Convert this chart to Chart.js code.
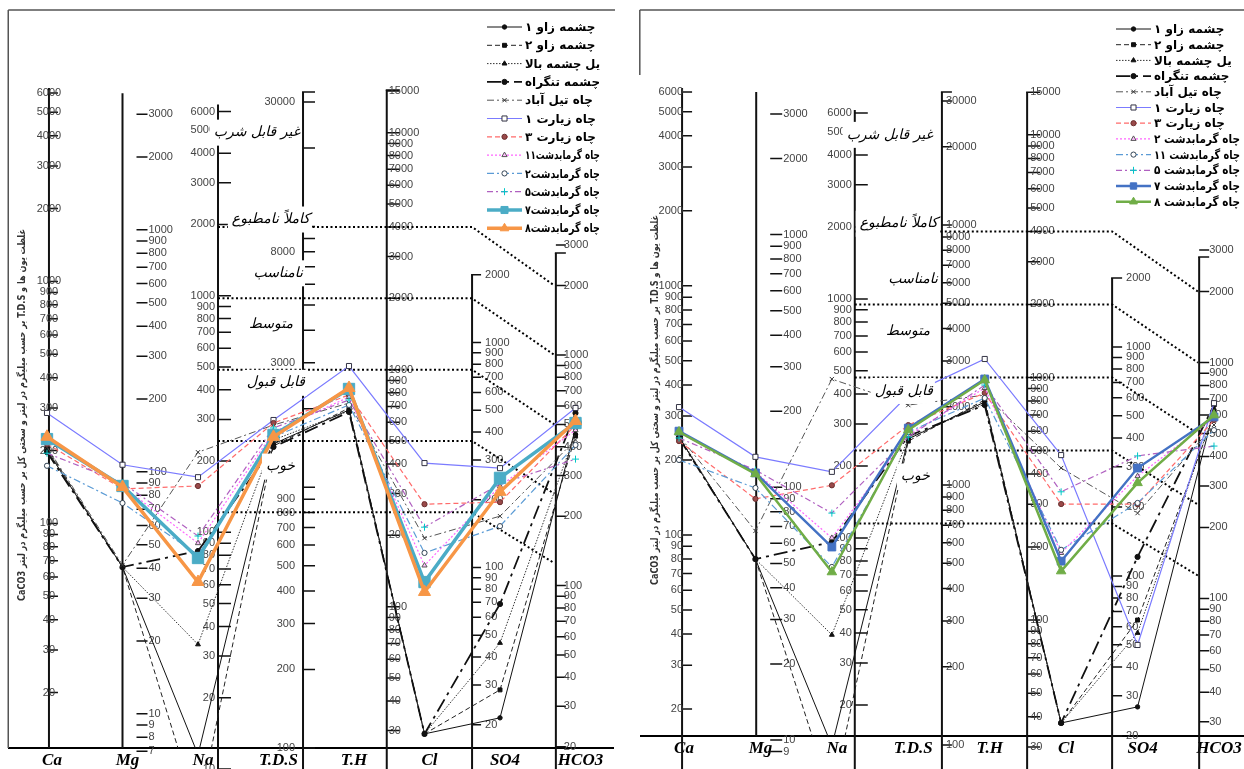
<!DOCTYPE html>
<html>
<head>
<meta charset="utf-8">
<script src="https://cdn.jsdelivr.net/npm/chart.js@4.4.1/dist/chart.umd.min.js"></script>
<style>
  html, body { margin: 0; background: #fff; overflow: hidden; width: 1244px; height: 769px; }
  canvas { position: absolute; top: 0; }
  #left { left: 0; }
  #right { left: 632px; }
</style>
</head>
<body>
<canvas id="left" width="630" height="769"></canvas>
<canvas id="right" width="630" height="769"></canvas>
<script>
const columns = ['Ca', 'Mg', 'Na', 'T.D.S', 'T.H', 'Cl', 'SO4', 'HCO3'];

const namesLeft = ['چشمه زاو ۱', 'چشمه زاو ۲', 'یل چشمه بالا', 'چشمه تنگراه', 'چاه تیل آباد', 'چاه زیارت ۱',
    'چاه زیارت ۳', 'چاه گرمابدشت۱۱', 'چاه گرمابدشت۲', 'چاه گرمابدشت۵', 'چاه گرمابدشت۷', 'چاه گرمابدشت۸'];
const namesRight = ['چشمه زاو ۱', 'چشمه زاو ۲', 'یل چشمه بالا', 'چشمه تنگراه', 'چاه تیل آباد', 'چاه زیارت ۱',
    'چاه زیارت ۳', 'چاه گرمابدشت ۲', 'چاه گرمابدشت ۱۱', 'چاه گرمابدشت ۵', 'چاه گرمابدشت ۷', 'چاه گرمابدشت ۸'];

// mg/l (T.H as CaCO3), column order as above - left diagram
const L_zav1 = [201, 40.4, 11.5, 1465, 676, 18.2, 26.7, 612];
const L_zav2 = [205, 40.4, 6.5, 1439, 689, 18.2, 35.3, 566];
const L_pol = [201, 40.4, 33.6, 1518, 669, 18.2, 56.4, 583];
const L_tang = [197, 40.4, 83.4, 1427, 663, 18.2, 83.2, 711];
const L_til = [207, 41.2, 218, 1732, 723, 135, 200, 544];
const L_zi1 = [286, 107, 171, 1810, 1036, 291, 323, 748];
const L_zi3 = [213, 85, 157, 1763, 782, 191, 230, 631];
const L_g11 = [221, 87, 90, 1628, 767, 102, 270, 600];
const L_g2 = [173, 74.3, 80.2, 1558, 710, 116, 181, 517];
const L_g5 = [195, 90, 96.5, 1687, 745, 151, 276, 449];
const L_g7 = [223, 87.4, 77.9, 1586, 829, 86.1, 293, 644];
const L_g8 = [228, 86.5, 61.7, 1560, 837, 77.8, 255, 657];

// right diagram
const R_zav1 = [247, 52, 13.5, 1504, 793, 22.8, 34.7, 801];
const R_zav2 = [247, 52, 8.2, 1476, 808, 22.8, 81, 762];
const R_pol = [250, 52, 39.3, 1516, 778, 22.8, 71.4, 784];
const R_tang = [245, 52, 96.1, 1543, 770, 22.8, 150, 840];
const R_til = [250, 67.2, 462, 2031, 846, 296, 230, 692];
const R_zi1 = [326, 132, 189, 2219, 1192, 337, 63.5, 856];
const R_zi3 = [238, 90, 166, 1701, 863, 206, 251, 726];
const R_g2 = [257, 115, 100, 1557, 905, 126, 330, 740];
const R_g11 = [200, 99.4, 75.6, 1599, 823, 130, 254, 658];
const R_g5 = [245, 117, 127, 1529, 931, 233, 402, 563];
const R_g7 = [261, 114, 91.6, 1656, 986, 116, 357, 748];
const R_g8 = [259, 113, 72, 1628, 976, 105, 309, 762];

const seriesLeft = [L_zav1, L_zav2, L_pol, L_tang, L_til, L_zi1, L_zi3, L_g11, L_g2, L_g5, L_g7, L_g8];
const seriesRight = [R_zav1, R_zav2, R_pol, R_tang, R_til, R_zi1, R_zi3, R_g2, R_g11, R_g5, R_g7, R_g8];

// tick labels of the vertical axes
const caTicks = [6000, 5000, 4000, 3000, 2000, 1000, 900, 800, 700, 600, 500, 400, 300, 200, 100, 90, 80, 70, 60, 50, 40, 30, 20];
const mgTicks = [3000, 2000, 1000, 900, 800, 700, 600, 500, 400, 300, 200, 100, 90, 80, 70, 60, 50, 40, 30, 20, 10, 9, 8, 7];
const naTicks = [6000, 5000, 4000, 3000, 2000, 1000, 900, 800, 700, 600, 500, 400, 300, 200, 100, 90, 80, 70, 60, 50, 40, 30, 20, 10];
const tdsTicks = [30000, 20000, 10000, 9000, 8000, 7000, 6000, 5000, 4000, 3000, 2000, 1000, 900, 800, 700, 600, 500, 400, 300, 200, 100];
const tdsLabelsLeft = [30000, 8000, 3000, 900, 800, 700, 600, 500, 400, 300, 200, 100];
const thTicks = [15000, 10000, 9000, 8000, 7000, 6000, 5000, 4000, 3000, 2000, 1000, 900, 800, 700, 600, 500, 400, 300, 200, 100, 90, 80, 70, 60, 50, 40, 30];
const clTicks = [2000, 1000, 900, 800, 700, 600, 500, 400, 300, 200, 100, 90, 80, 70, 60, 50, 40, 30, 20];
const so4Ticks = [3000, 2000, 1000, 900, 800, 700, 600, 500, 400, 300, 200, 100, 90, 80, 70, 60, 50, 40, 30, 20];

// drinking water classes (boundaries on T.H axis and on last axis)
const zoneTH = [4000, 2000, 1000, 500, 250];
const zoneLast = [2000, 1000, 500, 250, 125];
const zoneNames = ['غیر قابل شرب', 'کاملاً نامطبوع', 'نامناسب', 'متوسط', 'قابل قبول', 'خوب'];
const zoneNameTH = [10000, 4300, 2550, 1550, 880, 390];

const yTitle = 'غلظت یون ها و T.D.S بر حسب میلیگرم در لیتر و سختی کل بر حسب میلیگرم در لیتر CaCO3';

// log(common) = k*log(v) - c  for each printed scale
const calLeft = {
    Ca: {k: 1, c: 1.302}, Mg: {k: 1, c: 1.089}, Na: {k: 0.978, c: 1.295}, TDS: {k: 1.0775, c: 2.385},
    TH: {k: 0.9794, c: 1.605}, Cl: {k: 0.9295, c: 1.343}, SO4: {k: 0.953, c: 1.465}, HCO3: {k: 0.953, c: 1.564}
};
const calRight = {
    Ca: {k: 1, c: 1.302}, Mg: {k: 1.0146, c: 1.14}, Na: {k: 0.9595, c: 1.233}, TDS: {k: 1.0437, c: 2.233},
    TH: {k: 0.974, c: 1.592}, Cl: {k: 0.9193, c: 1.3052}, SO4: {k: 0.947, c: 1.451}, HCO3: {k: 0.947, c: 1.55}
};
const colKeys = ['Ca', 'Mg', 'Na', 'TDS', 'TH', 'Cl', 'SO4', 'HCO3'];

function conv(v, cal) {
    return Math.pow(10, cal.k * Math.log10(v) - cal.c);
}

const baseStyles = [
    {color: '#111', width: 1, dash: [], point: 'circle', r: 2.2, fill: '#111', stroke: '#111'},
    {color: '#222', width: 1, dash: [5, 3], point: 'rect', r: 2.8, fill: '#111', stroke: '#111'},
    {color: '#333', width: 1, dash: [1.5, 1.5], point: 'triangle', r: 2.8, fill: '#111', stroke: '#111'},
    {color: '#111', width: 1.8, dash: [14, 5, 3, 5], point: 'circle', r: 2.6, fill: '#111', stroke: '#111'},
    {color: '#555', width: 1, dash: [7, 3, 2, 3], point: 'crossRot', r: 3, fill: '#333', stroke: '#333'},
    {color: '#7b7bff', width: 1.2, dash: [], point: 'rect', r: 3.6, fill: '#fff', stroke: '#334'},
    {color: '#ff6b6b', width: 1.2, dash: [5, 3], point: 'circle', r: 2.6, fill: '#9a4a4a', stroke: '#6a3030'},
    {color: '#ff66ff', width: 1.2, dash: [2, 2], point: 'triangle', r: 3, fill: '#ffc0ff', stroke: '#555'},
    {color: '#5b9bd5', width: 1.2, dash: [7, 3, 2, 3], point: 'circle', r: 2.6, fill: '#fff', stroke: '#345'},
    {color: '#b060c0', width: 1.2, dash: [6, 3, 2, 3], point: 'cross', r: 3.5, fill: '#00c8c8', stroke: '#00c8c8'}
];

const panelLeft = {
    id: 'left', names: namesLeft, series: seriesLeft, cal: calLeft,
    thick: [
        {color: '#4bacc6', width: 3.5, dash: [], point: 'rect', r: 8, fill: '#4bacc6', stroke: '#4bacc6', lr: 5},
        {color: '#f79646', width: 3.5, dash: [], point: 'triangle', r: 7, fill: '#f79646', stroke: '#f79646', lr: 5}
    ],
    padding: {left: 9.25, right: 16.75, top: 10, bottom: 0},
    yMin: Math.pow(10, (692.3 - 748) / 242), yMax: Math.pow(10, (692.3 - 10) / 242),
    axes: [
        {at: 0.026, cal: calLeft.Ca, vals: caTicks, top: -5, end: false, t0: 0, t1: 9, dx: 0, align: 'center'},
        {at: 1.0, cal: calLeft.Mg, vals: mgTicks, top: -21, end: false, t0: 14, t1: 25, dx: 26, align: 'left'},
        {at: 2.265, cal: calLeft.Na, vals: naTicks, top: -7, end: true, t0: 0, t1: 13, dx: -3, align: 'right'},
        {at: 3.391, cal: calLeft.TDS, vals: tdsTicks, labels: tdsLabelsLeft, top: -10, end: true, t0: 0, t1: 12, dx: -8, align: 'right', bracket: true},
        {at: 4.50, cal: calLeft.TH, vals: thTicks, top: -1, end: true, t0: 0, t1: 13, dx: 2, align: 'left', bracket: true},
        {at: 5.63, cal: calLeft.Cl, vals: clTicks, top: 0, end: true, t0: 0, t1: 9, dx: 13, align: 'left', bracket: true},
        {at: 6.74, cal: calLeft.SO4, vals: so4Ticks, top: 8, end: true, t0: 0, t1: 10, dx: 8, align: 'left', bracket: true}
    ],
    zone: {from: 2.265, mid: 5.63, to: 6.72, labelAt: 3.391, labelDx: [-3, 7, 0, -10, 2, -8]},
    frame: {top: 10, right: 615, leftEnd: 748},
    legend: {x0: 487, x1: 522, tx: 525, y0: 27, step: 18.3, font: 'bold 12px "DejaVu Sans", sans-serif', maxW: 75},
    title: {x: 22, y: 415, maxW: 372}
};

const panelRight = {
    id: 'right', names: namesRight, series: seriesRight, cal: calRight,
    thick: [
        {color: '#4472c4', width: 2.5, dash: [], point: 'rect', r: 5.5, fill: '#4472c4', stroke: '#4472c4', lr: 4.5},
        {color: '#70ad47', width: 2.5, dash: [], point: 'triangle', r: 5.5, fill: '#70ad47', stroke: '#70ad47', lr: 4.5}
    ],
    padding: {left: 8.8, right: 9.8, top: 10, bottom: 12},
    yMin: Math.pow(10, (708.8 - 736) / 249.1), yMax: Math.pow(10, (708.8 - 10) / 249.1),
    axes: [
        {at: 0.04, cal: calRight.Ca, vals: caTicks, top: -4, end: true, t0: 0, t1: 10, dx: 1, align: 'right'},
        {at: 1.01, cal: calRight.Mg, vals: mgTicks.slice(0, 22), top: -22, end: false, t0: 14, t1: 26, dx: 27, align: 'left'},
        {at: 2.30, cal: calRight.Na, vals: naTicks.slice(0, 23), top: -3, end: true, t0: 0, t1: 13, dx: -3, align: 'right'},
        {at: 3.44, cal: calRight.TDS, vals: tdsTicks, top: -9, end: true, t0: 0, t1: 10, dx: 4, align: 'left', bracket: true},
        {at: 4.555, cal: calRight.TH, vals: thTicks, top: 0, end: true, t0: 0, t1: 13, dx: 3, align: 'left', bracket: true},
        {at: 5.667, cal: calRight.Cl, vals: clTicks, top: 0, end: true, t0: 0, t1: 10, dx: 14, align: 'left', bracket: true},
        {at: 6.806, cal: calRight.SO4, vals: so4Ticks.slice(0, 19), top: 7, end: true, t0: 0, t1: 10, dx: 10, align: 'left', bracket: true}
    ],
    zone: {from: 2.30, mid: 5.667, to: 6.79, labelAt: 3.44, labelDx: [-9, -4, -4, -12, -9, -12]},
    frame: {top: 10, right: 630, leftEnd: 75},
    legend: {x0: 484, x1: 519, tx: 522, y0: 29, step: 15.7, font: 'bold 12px "DejaVu Sans", sans-serif', maxW: 86},
    title: {x: 23, y: 400, maxW: 370}
};

function makeDecor(p) {
    return {
        id: 'decor-' + p.id,
        beforeDatasetsDraw(chart) {
            const {ctx, chartArea: ca, scales: {x, y}} = chart;
            const Y = (v, cal) => y.getPixelForValue(conv(v, cal));
            ctx.save();
            // frame
            ctx.strokeStyle = '#555';
            ctx.lineWidth = 1.5;
            ctx.beginPath();
            ctx.moveTo(ca.left - 1, p.frame.top);
            ctx.lineTo(p.frame.right, p.frame.top);
            ctx.moveTo(ca.left - 1, p.frame.top);
            ctx.lineTo(ca.left - 1, p.frame.leftEnd);
            ctx.stroke();
            // vertical scales
            p.axes.forEach(a => {
                const ax = x.getPixelForValue(a.at);
                const ys = a.vals.map(v => Y(v, a.cal));
                const top = Math.min(...ys) + a.top;
                const bottom = a.end ? chart.height : ca.bottom;
                ctx.strokeStyle = '#111';
                ctx.lineWidth = 2;
                ctx.beginPath();
                ctx.moveTo(ax, top);
                ctx.lineTo(ax, bottom);
                ctx.stroke();
                ctx.lineWidth = 1.5;
                ctx.beginPath();
                ys.forEach(py => {
                    ctx.moveTo(ax + a.t0, py);
                    ctx.lineTo(ax + a.t1, py);
                });
                if (a.bracket) {
                    ctx.moveTo(ax - 1, top);
                    ctx.lineTo(ax + a.t1, top);
                }
                ctx.stroke();
                ctx.fillStyle = '#444';
                ctx.font = '11px "Liberation Sans", Arial, sans-serif';
                ctx.textAlign = a.align;
                ctx.textBaseline = 'middle';
                (a.labels || a.vals).forEach(v => ctx.fillText(String(v), ax + a.dx, Y(v, a.cal)));
            });
            // class boundaries
            const xa = x.getPixelForValue(p.zone.from);
            const xb = x.getPixelForValue(p.zone.mid);
            const xc = x.getPixelForValue(p.zone.to);
            ctx.strokeStyle = '#000';
            ctx.lineWidth = 2;
            ctx.setLineDash([2, 2.5]);
            zoneTH.forEach((v, i) => {
                const y1 = Y(v, p.cal.TH);
                const y2 = Y(zoneLast[i], p.cal.SO4);
                ctx.beginPath();
                ctx.moveTo(xa, y1);
                ctx.lineTo(xb, y1);
                ctx.lineTo(xc, y2);
                ctx.stroke();
            });
            ctx.restore();
        },
        afterDatasetsDraw(chart) {
            const {ctx, scales: {x, y}} = chart;
            const Y = (v, cal) => y.getPixelForValue(conv(v, cal));
            ctx.save();
            // class names
            ctx.font = 'italic 14px "DejaVu Sans", sans-serif';
            ctx.direction = 'rtl';
            ctx.textAlign = 'right';
            ctx.textBaseline = 'middle';
            const lx = x.getPixelForValue(p.zone.labelAt);
            zoneNames.forEach((t, i) => {
                const tx = lx + p.zone.labelDx[i];
                const ty = Y(zoneNameTH[i], p.cal.TH);
                const w = ctx.measureText(t).width;
                ctx.fillStyle = '#fff';
                ctx.fillRect(tx - w - 4, ty - 13, w + 6, 26);
                ctx.fillStyle = '#000';
                ctx.fillText(t, tx, ty);
            });
            // legend
            const lg = p.legend;
            chart.data.datasets.forEach((ds, i) => {
                const ly = lg.y0 + i * lg.step;
                ctx.strokeStyle = ds.borderColor;
                ctx.lineWidth = ds.borderWidth;
                ctx.setLineDash(ds.borderDash);
                ctx.beginPath();
                ctx.moveTo(lg.x0, ly);
                ctx.lineTo(lg.x1, ly);
                ctx.stroke();
                ctx.setLineDash([]);
                ctx.fillStyle = ds.pointBackgroundColor;
                ctx.strokeStyle = ds.pointBorderColor;
                ctx.lineWidth = ds.pointBorderWidth;
                Chart.helpers.drawPoint(ctx, {
                    pointStyle: ds.pointStyle, radius: ds.legendRadius,
                    borderWidth: ds.pointBorderWidth, rotation: 0
                }, (lg.x0 + lg.x1) / 2, ly);
                ctx.fillStyle = '#000';
                ctx.font = lg.font;
                ctx.textAlign = 'left';
                ctx.fillText(ds.label, lg.tx, ly + 1, lg.maxW);
            });
            // vertical title
            ctx.translate(p.title.x, p.title.y);
            ctx.rotate(-Math.PI / 2);
            ctx.font = 'bold 10px "DejaVu Sans", sans-serif';
            ctx.fillStyle = '#333';
            ctx.textAlign = 'center';
            ctx.fillText(yTitle, 0, 0, p.title.maxW);
            ctx.restore();
        }
    };
}

function buildPanel(p) {
    const styles = baseStyles.concat(p.thick);
    const datasets = p.series.map((vals, i) => {
        const s = styles[i];
        return {
            label: p.names[i],
            data: vals.map((v, j) => conv(v, p.cal[colKeys[j]])),
            borderColor: s.color,
            borderWidth: s.width,
            borderDash: s.dash,
            pointStyle: s.point,
            pointRadius: s.r,
            legendRadius: s.lr || s.r,
            pointBackgroundColor: s.fill,
            pointBorderColor: s.stroke,
            pointBorderWidth: 1,
            tension: 0,
            fill: false,
            order: p.series.length - i
        };
    });
    return new Chart(document.getElementById(p.id), {
        type: 'line',
        data: {labels: columns, datasets: datasets},
        options: {
            responsive: false,
            animation: false,
            events: [],
            devicePixelRatio: 1,
            layout: {padding: p.padding},
            plugins: {legend: {display: false}, tooltip: {enabled: false}},
            scales: {
                x: {
                    type: 'category',
                    offset: true,
                    grid: {display: false, drawTicks: false},
                    border: {display: true, color: '#000', width: 2},
                    ticks: {
                        color: '#000', padding: 2, maxRotation: 0, autoSkip: false, labelOffset: 5,
                        font: {family: '"Liberation Serif", serif', size: 17, weight: 'bold', style: 'italic'}
                    },
                    afterFit: s => { s.height = 21; }
                },
                y: {type: 'logarithmic', display: false, bounds: 'data', min: p.yMin, max: p.yMax}
            }
        },
        plugins: [makeDecor(p)]
    });
}

buildPanel(panelLeft);
buildPanel(panelRight);
</script>
</body>
</html>
